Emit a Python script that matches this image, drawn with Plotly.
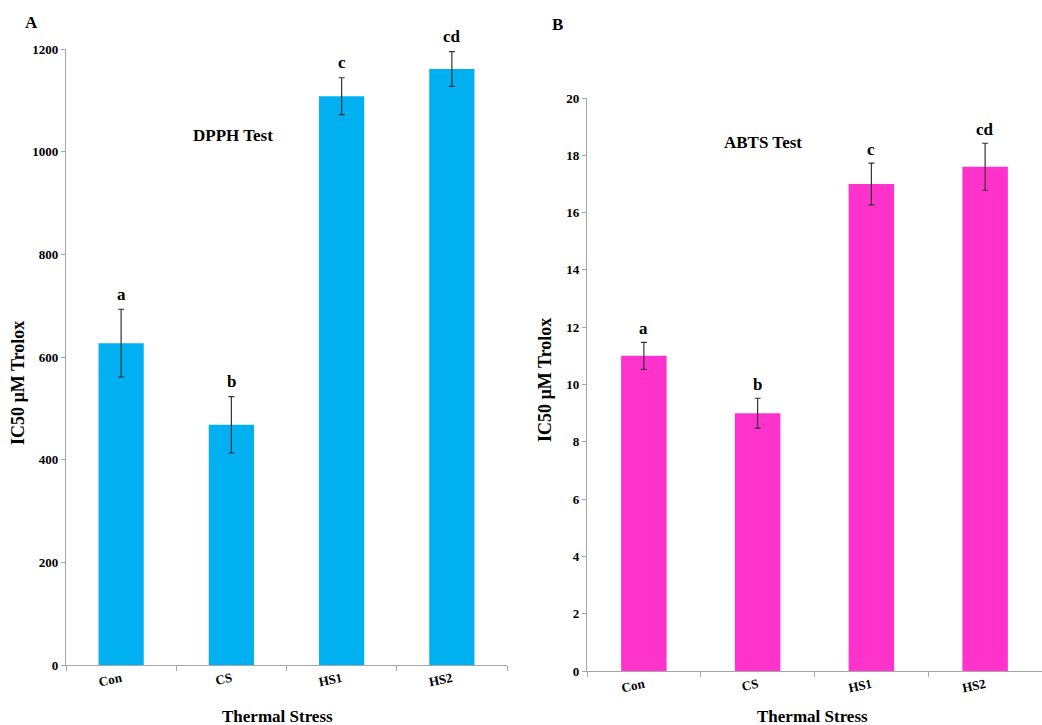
import plotly.graph_objects as go

# Treatments on the x axis
categories = ["Con", "CS", "HS1", "HS2"]

# DPPH assay: IC50 (µM Trolox), standard errors and significance letters
dpph_values = [627, 468, 1108, 1161]
dpph_errors = [66, 55, 36, 34]
dpph_letters = ["a", "b", "c", "cd"]

# ABTS assay: IC50 (µM Trolox), standard errors and significance letters
abts_values = [11.0, 9.0, 17.0, 17.6]
abts_errors = [0.47, 0.52, 0.73, 0.82]
abts_letters = ["a", "b", "c", "cd"]

dpph_ticks = [0, 200, 400, 600, 800, 1000, 1200]
abts_ticks = [0, 2, 4, 6, 8, 10, 12, 14, 16, 18, 20]

SERIF = "Liberation Serif, Times New Roman, serif"
AXIS_GREY = "#A6A6A6"
W, H = 1042, 725

fig = go.Figure()

fig.add_trace(go.Bar(
    x=categories, y=dpph_values, width=0.41,
    marker=dict(color="#00B0F0", line=dict(width=0)),
    error_y=dict(type="data", array=dpph_errors, color="#333333",
                 thickness=1.2, width=3),
    xaxis="x", yaxis="y", showlegend=False,
))
fig.add_trace(go.Bar(
    x=categories, y=abts_values, width=0.40,
    marker=dict(color="#FF33CC", line=dict(width=0)),
    error_y=dict(type="data", array=abts_errors, color="#333333",
                 thickness=1.2, width=3),
    xaxis="x2", yaxis="y2", showlegend=False,
))

tick_font = dict(family=SERIF, size=13, color="black", weight="bold")

x_common = dict(
    type="category", showline=True, linecolor=AXIS_GREY, linewidth=1.3,
    ticks="outside", tickson="boundaries", ticklen=5, tickcolor=AXIS_GREY,
    tickangle=-12, tickfont=tick_font, showgrid=False, zeroline=False,
    range=[-0.5, 3.5], fixedrange=True, automargin=False,
)
y_common = dict(
    showline=True, linecolor=AXIS_GREY, linewidth=1.3,
    ticks="outside", ticklen=4, tickcolor=AXIS_GREY,
    tickfont=tick_font, showgrid=False, zeroline=False, tickmode="array",
    automargin=False,
)

fig.update_layout(
    width=W, height=H,
    margin=dict(l=0, r=0, t=0, b=0, pad=0, autoexpand=False),
    paper_bgcolor="white", plot_bgcolor="white",
    bargap=0.59,
    xaxis=dict(domain=[66 / W, 507 / W], anchor="y", **x_common),
    yaxis=dict(domain=[1 - 665 / H, 1 - 49 / H], anchor="x",
               range=[0, 1200], tickvals=dpph_ticks, **y_common),
    xaxis2=dict(domain=[587 / W, 1.0], anchor="y2", **x_common),
    yaxis2=dict(domain=[1 - 671 / H, 1 - 98 / H], anchor="x2",
                range=[0, 20], tickvals=abts_ticks, **y_common),
)

letter_font = dict(family=SERIF, size=17, color="black", weight="bold")
annotations = []

# Significance letters above each error bar
for cat, v, e, t in zip(categories, dpph_values, dpph_errors, dpph_letters):
    annotations.append(dict(x=cat, y=v + e, xref="x", yref="y", text=t,
                            showarrow=False, yanchor="middle", yshift=15,
                            font=letter_font))
for cat, v, e, t in zip(categories, abts_values, abts_errors, abts_letters):
    annotations.append(dict(x=cat, y=v + e, xref="x2", yref="y2", text=t,
                            showarrow=False, yanchor="middle", yshift=14,
                            font=letter_font))

def paper_text(x, y, text, size, angle=0):
    return dict(x=x / W, y=1 - y / H, xref="paper", yref="paper", text=text,
                showarrow=False, xanchor="center", yanchor="middle",
                textangle=angle,
                font=dict(family=SERIF, size=size, color="black",
                          weight="bold"))

annotations += [
    paper_text(31, 22, "A", 17),
    paper_text(557, 24, "B", 17),
    paper_text(233, 135, "DPPH Test", 17),
    paper_text(763, 143, "ABTS Test", 17),
    paper_text(18, 383, "IC50 µM Trolox", 18, -90),
    paper_text(545, 380, "IC50 µM Trolox", 18, -90),
    paper_text(277, 716, "Thermal Stress", 17),
    paper_text(812, 716, "Thermal Stress", 17),
]
fig.update_layout(annotations=annotations)

fig.write_html("out.html")
